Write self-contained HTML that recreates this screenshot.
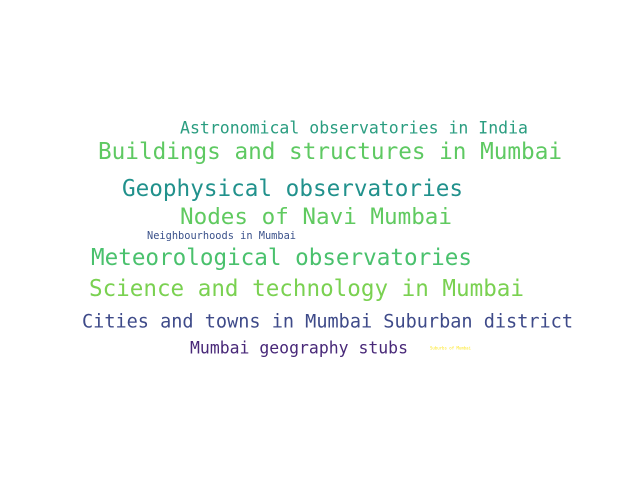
<!DOCTYPE html>
<html><head><meta charset="utf-8"><style>
html,body{margin:0;padding:0;background:#fff;width:640px;height:480px;overflow:hidden}
svg{display:block}
text{font-family:"DejaVu Sans Mono","Liberation Mono",monospace;dominant-baseline:central}
</style></head><body>
<svg width="640" height="480">
<text x="180" y="128" font-size="16.5" textLength="348" lengthAdjust="spacingAndGlyphs" fill="#2a9d80">Astronomical observatories in India</text>
<text x="98" y="152" font-size="22.7" textLength="464" lengthAdjust="spacingAndGlyphs" fill="#5ec962">Buildings and structures in Mumbai</text>
<text x="122" y="189" font-size="22.7" textLength="341" lengthAdjust="spacingAndGlyphs" fill="#21918c">Geophysical observatories</text>
<text x="180" y="217" font-size="22.6" textLength="272" lengthAdjust="spacingAndGlyphs" fill="#60ca60">Nodes of Navi Mumbai</text>
<text x="147" y="236" font-size="10.3" textLength="149" lengthAdjust="spacingAndGlyphs" fill="#3b528b">Neighbourhoods in Mumbai</text>
<text x="91" y="258" font-size="22.7" textLength="381" lengthAdjust="spacingAndGlyphs" fill="#4ac16d">Meteorological observatories</text>
<text x="89" y="289" font-size="22.7" textLength="435" lengthAdjust="spacingAndGlyphs" fill="#7ad151">Science and technology in Mumbai</text>
<text x="82" y="322" font-size="18.5" textLength="491" lengthAdjust="spacingAndGlyphs" fill="#3e4a89">Cities and towns in Mumbai Suburban district</text>
<text x="190" y="348" font-size="16.5" textLength="218" lengthAdjust="spacingAndGlyphs" fill="#482878">Mumbai geography stubs</text>
<text x="430" y="348" font-size="4" textLength="41" lengthAdjust="spacingAndGlyphs" fill="#fde725">Suburbs of Mumbai</text>
</svg>
</body></html>
